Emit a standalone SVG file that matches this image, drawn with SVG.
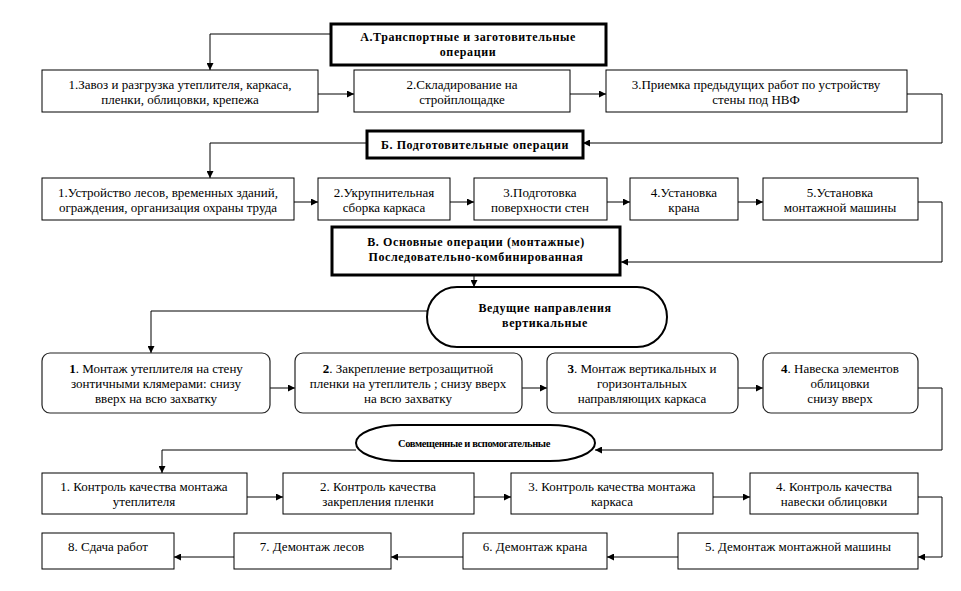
<svg xmlns="http://www.w3.org/2000/svg" width="961" height="591" viewBox="0 0 961 591" font-family="'Liberation Serif', 'Times New Roman', 'DejaVu Serif', serif">
<style>
text{font-family:'Liberation Serif','Times New Roman','DejaVu Serif',serif;fill:#000;text-anchor:middle}
.t{font-size:13px}
.h{font-size:12px;font-weight:bold;letter-spacing:0.6px}
.s{font-size:10.5px;font-weight:bold;letter-spacing:-0.4px}
.box{fill:#fff;stroke:#000;stroke-width:1}
.thick{fill:#fff;stroke:#000;stroke-width:3}
.rbox{fill:#fff;stroke:#222;stroke-width:1.2}
.oval{fill:#fff;stroke:#000;stroke-width:2}
.c{fill:none;stroke:#000;stroke-width:1;marker-end:url(#arr)}
</style>
<defs>
<marker id="arr" viewBox="0 0 10 10" refX="10" refY="5" markerWidth="8" markerHeight="7" markerUnits="userSpaceOnUse" orient="auto">
<path d="M0,0 L10,5 L0,10 z" fill="#000"/>
</marker>
</defs>
<rect width="961" height="591" fill="#fff"/>

<g id="connectors">
<path class="c" d="M330,34 H210 V70"/>
<path class="c" d="M318,94 H354"/>
<path class="c" d="M570,94 H606"/>
<path class="c" d="M907,94 H942 V143 H583"/>
<path class="c" d="M366,143 H210 V178"/>
<path class="c" d="M294,202 H318"/>
<path class="c" d="M450,202 H474"/>
<path class="c" d="M607,202 H630"/>
<path class="c" d="M738,202 H763"/>
<path class="c" d="M918,202 H942 V262 H621"/>
<path class="c" d="M474,276 V287"/>
<path class="c" d="M427,311 H151 V353"/>
<path class="c" d="M270,388 H295"/>
<path class="c" d="M522,388 H547"/>
<path class="c" d="M738,388 H763"/>
<path class="c" d="M918,388 H942 V450 H595"/>
<path class="c" d="M356,450 H162 V473"/>
<path class="c" d="M247,497 H283"/>
<path class="c" d="M474,497 H511"/>
<path class="c" d="M713,497 H750"/>
<path class="c" d="M918,497 H942 V557 H918"/>
<path class="c" d="M678,557 H607"/>
<path class="c" d="M463,557 H391"/>
<path class="c" d="M234,557 H174"/>
</g>

<g id="nodeA">
<rect class="thick" x="331" y="24" width="275" height="41"/>
<text class="h" x="468" y="41">А.Транспортные и заготовительные</text>
<text class="h" x="468" y="56">операции</text>
</g>
<g id="a1">
<rect class="box" x="42" y="70" width="276" height="42"/>
<text class="t" x="180" y="89">1.Завоз и разгрузка утеплителя, каркаса,</text>
<text class="t" x="180" y="104">пленки, облицовки, крепежа</text>
</g>
<g id="a2">
<rect class="box" x="354" y="70" width="216" height="42"/>
<text class="t" x="462" y="89">2.Складирование на</text>
<text class="t" x="462" y="104">стройплощадке</text>
</g>
<g id="a3">
<rect class="box" x="606" y="70" width="301" height="42"/>
<text class="t" x="756" y="89">3.Приемка предыдущих работ по устройству</text>
<text class="t" x="756" y="104">стены под НВФ</text>
</g>

<g id="nodeB">
<rect class="thick" x="367" y="131" width="216" height="27"/>
<text class="h" x="475" y="149">Б. Подготовительные операции</text>
</g>
<g id="b1">
<rect class="box" x="42" y="178" width="252" height="42"/>
<text class="t" x="168" y="197">1.Устройство лесов, временных зданий,</text>
<text class="t" x="168" y="212">ограждения, организация охраны труда</text>
</g>
<g id="b2">
<rect class="box" x="318" y="178" width="132" height="42"/>
<text class="t" x="384" y="197">2.Укрупнительная</text>
<text class="t" x="384" y="212">сборка каркаса</text>
</g>
<g id="b3">
<rect class="box" x="474" y="178" width="133" height="42"/>
<text class="t" x="540" y="197">3.Подготовка</text>
<text class="t" x="540" y="212">поверхности стен</text>
</g>
<g id="b4">
<rect class="box" x="630" y="178" width="108" height="42"/>
<text class="t" x="684" y="197">4.Установка</text>
<text class="t" x="684" y="212">крана</text>
</g>
<g id="b5">
<rect class="box" x="763" y="178" width="155" height="42"/>
<text class="t" x="840" y="197">5.Установка</text>
<text class="t" x="840" y="212">монтажной машины</text>
</g>

<g id="nodeV">
<rect class="thick" x="332" y="227" width="288" height="48"/>
<text class="h" x="476" y="246">В. Основные операции (монтажные)</text>
<text class="h" x="476" y="261">Последовательно-комбинированная</text>
</g>

<g id="lead">
<rect class="oval" x="427" y="287" width="240" height="60" rx="30" ry="30"/>
<text class="h" x="545" y="312">Ведущие направления</text>
<text class="h" x="545" y="327">вертикальные</text>
</g>
<g id="v1">
<rect class="rbox" x="42" y="353" width="228" height="60" rx="8"/>
<text class="t" x="156" y="373"><tspan font-weight="bold">1</tspan>. Монтаж утеплителя на стену</text>
<text class="t" x="156" y="388">зонтичными клямерами: снизу</text>
<text class="t" x="156" y="403">вверх на всю захватку</text>
</g>
<g id="v2">
<rect class="rbox" x="295" y="353" width="227" height="60" rx="8"/>
<text class="t" x="408" y="373"><tspan font-weight="bold">2</tspan>. Закрепление ветрозащитной</text>
<text class="t" x="408" y="388">пленки на утеплитель ; снизу вверх</text>
<text class="t" x="408" y="403">на всю захватку</text>
</g>
<g id="v3">
<rect class="rbox" x="547" y="353" width="191" height="60" rx="8"/>
<text class="t" x="642" y="373"><tspan font-weight="bold">3</tspan>. Монтаж вертикальных и</text>
<text class="t" x="642" y="388">горизонтальных</text>
<text class="t" x="642" y="403">направляющих каркаса</text>
</g>
<g id="v4">
<rect class="rbox" x="763" y="353" width="155" height="60" rx="8"/>
<text class="t" x="840" y="373"><tspan font-weight="bold">4</tspan>. Навеска элементов</text>
<text class="t" x="840" y="388">облицовки</text>
<text class="t" x="840" y="403">снизу вверх</text>
</g>

<g id="aux">
<rect class="oval" x="356" y="425" width="239" height="36" rx="45" ry="18"/>
<text class="s" x="474" y="447">Совмещенные и вспомогательные</text>
</g>
<g id="k1">
<rect class="box" x="42" y="473" width="205" height="41"/>
<text class="t" x="144" y="491">1. Контроль качества монтажа</text>
<text class="t" x="144" y="506">утеплителя</text>
</g>
<g id="k2">
<rect class="box" x="283" y="473" width="191" height="41"/>
<text class="t" x="378" y="491">2. Контроль качества</text>
<text class="t" x="378" y="506">закрепления пленки</text>
</g>
<g id="k3">
<rect class="box" x="511" y="473" width="202" height="41"/>
<text class="t" x="612" y="491">3. Контроль качества монтажа</text>
<text class="t" x="612" y="506">каркаса</text>
</g>
<g id="k4">
<rect class="box" x="750" y="473" width="168" height="41"/>
<text class="t" x="834" y="491">4. Контроль качества</text>
<text class="t" x="834" y="506">навески облицовки</text>
</g>
<g id="d5">
<rect class="box" x="678" y="533" width="240" height="36"/>
<text class="t" x="798" y="551">5. Демонтаж монтажной машины</text>
</g>
<g id="d6">
<rect class="box" x="463" y="533" width="144" height="36"/>
<text class="t" x="535" y="551">6. Демонтаж крана</text>
</g>
<g id="d7">
<rect class="box" x="234" y="533" width="157" height="36"/>
<text class="t" x="312" y="551">7. Демонтаж лесов</text>
</g>
<g id="d8">
<rect class="box" x="42" y="533" width="132" height="36"/>
<text class="t" x="108" y="551">8. Сдача работ</text>
</g>
</svg>
